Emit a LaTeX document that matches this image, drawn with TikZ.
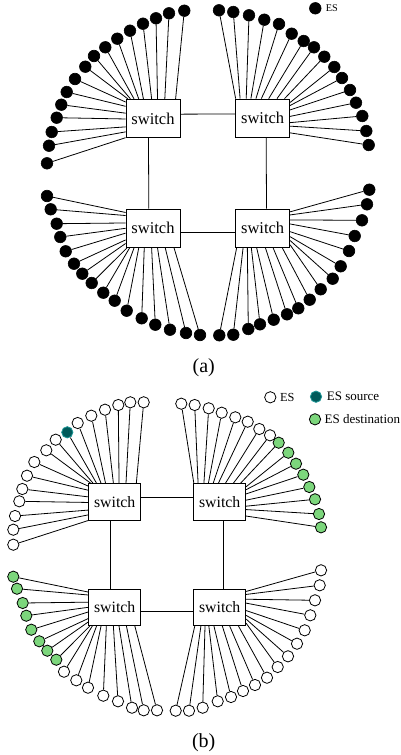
\documentclass[tikz,border=0pt]{standalone}
\usepackage{fontspec}
\setmainfont{Liberation Serif}
\definecolor{srcfill}{RGB}{0,90,90}
\definecolor{srcline}{RGB}{30,150,150}
\definecolor{dstfill}{RGB}{124,214,124}
\tikzset{
  swbig/.style={draw,line width=0.8pt,fill=white,minimum width=54pt,minimum height=38.5pt,inner sep=0pt,font=\fontsize{16.5}{18}\selectfont},
  swsmall/.style={draw,line width=0.8pt,fill=white,minimum width=52pt,minimum height=36.8pt,inner sep=0pt,font=\fontsize{15.8}{18}\selectfont},
  eswire/.style={line width=0.8pt},
  esblack/.style={circle,draw,fill=black,line width=0.6pt,minimum size=11.6pt,inner sep=0pt},
  esfree/.style={circle,draw,fill=white,line width=0.8pt,minimum size=11.3pt,inner sep=0pt},
  esdest/.style={circle,draw,fill=dstfill,line width=0.8pt,minimum size=11.3pt,inner sep=0pt},
  essrc/.style={circle,draw=srcline,fill=srcfill,line width=0.8pt,minimum size=11.3pt,inner sep=0pt},
  legend/.style={anchor=west,inner sep=0pt},
  caption/.style={font=\fontsize{20}{22}\selectfont}
}
\begin{document}
\begin{tikzpicture}[x=1pt,y=-1pt]
\useasboundingbox (0,0) rectangle (401,755);
% Panel (a)
\node[swbig] (atl) at (153,118.5) {switch};
\node[swbig] (atr) at (262.7,118.3) {switch};
\node[swbig] (abl) at (153,228.3) {switch};
\node[swbig] (abr) at (262.7,228.3) {switch};
\draw[eswire] (atl.9) -- (atr.171);
\draw[eswire] (abl.-8) -- (abr.188);
\draw[eswire] (atl.257.6) -- (abl.102.4);
\draw[eswire] (atr.280.5) -- (abr.79.5);
\foreach \x/\y/\a [count=\i] in {47/163.3/215.9,49/145.7/206.8,51.7/132/197.9,56.7/117.7/181,61.3/104.7/169.3,66.7/92/156.6,75/79/149.9,85.3/66.7/142.8,94/56/139.8,105.3/47.3/134,117.3/38.7/126,130/30.7/116,143/23.7/94,156/18.3/77.8,169/13.3/59.7,184.3/10.7/41.8}
{
  \node[esblack] (atl\i) at (\x,\y) {};
  \draw[eswire] (atl\i) -- (atl.\a);
}
\foreach \x/\y/\a [count=\i] in {219/10.3/144,233.3/12/139,249/15.3/130.8,264.3/19.7/121.4,279/24/109.6,291.7/33.7/94.8,303.7/41/73.9,314/47.3/54.6,324.3/56.7/42.7,334.3/67/30.9,342/78/25.4,350/90/17,356/102.7/4.2,362.3/116/-9,366.3/131/-16.3,368.7/145/-28.8}
{
  \node[esblack] (atr\i) at (\x,\y) {};
  \draw[eswire] (atr\i) -- (atr.\a);
}
\foreach \x/\y/\a [count=\i] in {47/196/150.2,50.7/209.3/155.7,56.7/223.7/169,60.3/237/180,65.7/251.3/190.4,74/263.7/203.1,82.3/273.7/209.8,91.7/283/217.2,103.3/292.7/220.5,114.7/300.7/226.5,126.7/310.7/234.6,141.7/318.3/246.6,155.3/324.7/266,170/329.7/283,186/333/302.8,200/335/317.2}
{
  \node[esblack] (abl\i) at (\x,\y) {};
  \draw[eswire] (abl\i) -- (abl.\a);
}
\foreach \x/\y/\a [count=\i] in {219.3/335.3/217.8,233.3/334.7/225,248.3/329/232.7,260/324.3/240.8,273.7/319.7/253,287/314.3/278.7,298.3/308.3/298.5,309.7/299.7/315,320.7/289.3/-31.4,332.7/278.7/-24.9,340.7/266.3/-17,349/251/-7,354.7/236/9,362/220.3/17,367/204.3/26,369.3/189.7/31.4}
{
  \node[esblack] (abr\i) at (\x,\y) {};
  \draw[eswire] (abr\i) -- (abr.\a);
}
\node[esblack] (akey) at (315.3,8.3) {};
\node[legend,font=\fontsize{10.3}{12}\selectfont] (akeytext) at (325.7,8.3) {ES};
\node[caption] (acap) at (203.7,367.5) {(a)};
% Panel (b)
\node[swsmall] (btl) at (114.7,502) {switch};
\node[swsmall] (btr) at (219.7,502) {switch};
\node[swsmall] (bbl) at (114.7,607.3) {switch};
\node[swsmall] (bbr) at (219.7,607.3) {switch};
\draw[eswire] (btl.9) -- (btr.171);
\draw[eswire] (bbl.-8) -- (bbr.188);
\draw[eswire] (btl.258) -- (bbl.102);
\draw[eswire] (btr.281) -- (bbr.79);
\foreach \x/\y/\a/\k [count=\i] in {13.3/544.7/215.9/esfree,13.3/529.7/206.8/esfree,15/516/197.9/esfree,19.3/501.3/181/esfree,22.3/489/169.3/esfree,27/475.7/156.6/esfree,34.3/462/149.9/esfree,46.3/450.3/142.8/esfree,55.7/439.7/139.8/esfree,67.3/432.3/134/essrc,77.7/423/126/esfree,91.3/415.7/116/esfree,105/409.7/94/esfree,118.3/405/77.8/esfree,130.3/402.3/59.7/esfree,143.7/402.3/41.8/esfree}
{
  \node[\k] (btl\i) at (\x,\y) {};
  \draw[eswire] (btl\i) -- (btl.\a);
}
\foreach \x/\y/\a/\k [count=\i] in {181.3/403.7/144/esfree,194.7/405/139/esfree,208.7/408.3/130.8/esfree,221.7/412.7/121.4/esfree,235.3/417.3/109.6/esfree,247.7/421.7/94.8/esfree,259.3/429/73.9/esfree,270/435.3/54.6/esfree,278.7/442.7/42.7/esdest,288.3/452.7/30.9/esdest,296/463.7/25.4/esdest,303.3/474.7/17/esdest,309.3/487/4.2/esdest,315/499.3/-9/esdest,319/514/-16.3/esdest,321/527.3/-28.8/esdest}
{
  \node[\k] (btr\i) at (\x,\y) {};
  \draw[eswire] (btr\i) -- (btr.\a);
}
\foreach \x/\y/\a/\k [count=\i] in {13.3/576.7/150.2/esdest,17/588.7/155.7/esdest,22.7/603/169/esdest,26.3/615.7/180/esdest,31.3/629.7/190.4/esdest,39.3/641.3/203.1/esdest,47.3/650.7/209.8/esdest,56.3/659.7/217.2/esdest,64/671.7/220.5/esfree,76.3/680.3/226.5/esfree,88/687.7/234.6/esfree,103.3/695.7/246.6/esfree,118/701.3/266/esfree,132/707.7/283/esfree,143.7/710.3/302.8/esfree,157/710.3/317.2/esfree}
{
  \node[\k] (bbl\i) at (\x,\y) {};
  \draw[eswire] (bbl\i) -- (bbl.\a);
}
\foreach \x/\y/\a/\k [count=\i] in {175.7/710.7/217.8/esfree,189/710.7/225/esfree,202.7/707.7/232.7/esfree,217.7/701.3/240.8/esfree,231/697/253/esfree,243/691/278.7/esfree,255/685/298.5/esfree,267/677.7/315/esfree,277.7/667/-31.4/esfree,288/656.3/-24.9/esfree,297/643.7/-17/esfree,304.7/630.3/-7/esfree,310.3/615.3/9/esfree,315/600.3/17/esfree,319.7/585.3/26/esfree,321/570.3/31.4/esfree}
{
  \node[\k] (bbr\i) at (\x,\y) {};
  \draw[eswire] (bbr\i) -- (bbr.\a);
}
\node[esfree] (bkey) at (270.3,397.3) {};
\node[legend,font=\fontsize{12.3}{14}\selectfont] (bkeytext) at (280,397.3) {ES};
\node[essrc] (bsrc) at (316,396.7) {};
\node[legend,font=\fontsize{13}{15}\selectfont] (bsrctext) at (326.7,396.7) {ES source};
\node[esdest] (bdst) at (315,419.3) {};
\node[legend,font=\fontsize{13}{15}\selectfont] (bdsttext) at (324.5,419.3) {ES destination};
\node[caption] (bcap) at (203.7,743) {(b)};
\end{tikzpicture}
\end{document}
